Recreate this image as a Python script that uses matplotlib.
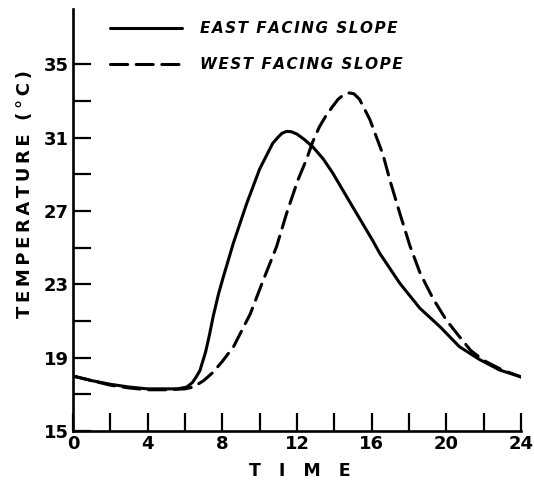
import matplotlib
matplotlib.use("Agg")
import matplotlib.pyplot as plt
from matplotlib.ticker import MultipleLocator

east_t = [0, 1, 2, 3, 4, 5, 5.6, 6.1, 6.4, 6.6, 6.8, 6.95, 7.1, 7.3, 7.52, 7.8,
          8.05, 8.59, 9.3, 10.0, 10.4, 10.7, 11.0, 11.2, 11.45, 11.7, 12.0, 12.4,
          12.85, 13.4, 13.9, 15.0, 16.05, 16.43, 17.5, 18.58, 19.65, 20.7, 21.78,
          22.85, 24.0]
east_T = [18.0, 17.75, 17.55, 17.4, 17.3, 17.3, 17.3, 17.4, 17.65, 17.95, 18.3,
          18.8, 19.3, 20.2, 21.3, 22.5, 23.4, 25.25, 27.4, 29.3, 30.1, 30.7, 31.05,
          31.25, 31.35, 31.33, 31.2, 30.9, 30.5, 29.85, 29.1, 27.2, 25.4, 24.7,
          23.07, 21.7, 20.7, 19.6, 18.9, 18.33, 17.95]

west_t = [0, 1, 2, 3, 4, 5, 6.0, 6.45, 7.0, 7.5, 8.0, 8.6, 9.5, 10.2, 10.9, 11.45,
          12.05, 12.5, 12.85, 13.2, 13.55, 13.9, 14.2, 14.5, 14.8, 15.05, 15.35,
          15.6, 15.9, 16.6, 17.0, 17.5, 18.05, 18.6, 19.3, 20.0, 20.7, 21.3, 22.0,
          23.0, 24.0]
west_T = [18.0, 17.75, 17.5, 17.35, 17.25, 17.25, 17.3, 17.4, 17.75, 18.2, 18.8,
          19.6, 21.4, 23.25, 25.05, 26.9, 28.7, 29.8, 30.8, 31.6, 32.2, 32.7, 33.1,
          33.35, 33.45, 33.4, 33.1, 32.6, 32.0, 30.1, 28.6, 26.9, 25.1, 23.6, 22.2,
          21.05, 20.15, 19.4, 18.85, 18.33, 17.95]

series_labels = ["EAST FACING SLOPE", "WEST FACING SLOPE"]
x_label = "TIME"
y_label = "TEMPERATURE (°C)"


def spaced(s, sep):
    return sep.join(s)


fig = plt.figure(figsize=(5.34, 4.82), dpi=100)
ax = fig.add_axes([0.1367, 0.1058, 0.839, 0.8745])

lw = 2.2
ax.plot(east_t, east_T, color="black", lw=lw, solid_capstyle="round",
        solid_joinstyle="round", label=spaced(series_labels[0], "\u200a"))
ax.plot(west_t, west_T, color="black", lw=lw, linestyle=(0, (5.6, 2.8)),
        dash_capstyle="round", label=spaced(series_labels[1], "\u200a"))

ax.set_xlim(0, 24)
ax.set_ylim(15, 38)
ax.spines["top"].set_visible(False)
ax.spines["right"].set_visible(False)
for s in ("left", "bottom"):
    ax.spines[s].set_linewidth(1.9)

ax.xaxis.set_major_locator(MultipleLocator(4))
ax.xaxis.set_minor_locator(MultipleLocator(2))
ax.set_yticks([15, 19, 23, 27, 31, 35])
ax.set_yticks([17, 21, 25, 29, 33], minor=True)

ax.tick_params(which="both", direction="in", length=13, width=1.6)
ax.tick_params(axis="x", which="major", pad=3, labelsize=13)
ax.tick_params(axis="y", which="major", pad=3, labelsize=13)
for lab in ax.get_xticklabels() + ax.get_yticklabels():
    lab.set_fontweight("bold")

ax.set_xlabel("   ".join(x_label), fontsize=12.5, fontweight="bold", va="top")
ax.xaxis.set_label_coords(0.506, -0.073)
ax.set_ylabel(spaced(y_label, "\u2009"), fontsize=13, fontweight="bold")
ax.yaxis.set_label_coords(-0.088, 0.562)

leg = ax.legend(loc="upper left", bbox_to_anchor=(0.0826, 0.973), frameon=False,
                borderpad=0, borderaxespad=0, handlelength=4.7,
                handletextpad=1.2, labelspacing=1.4,
                prop={"weight": "bold", "style": "italic", "size": 11})

fig.savefig("out.png", dpi=100, facecolor="white")
